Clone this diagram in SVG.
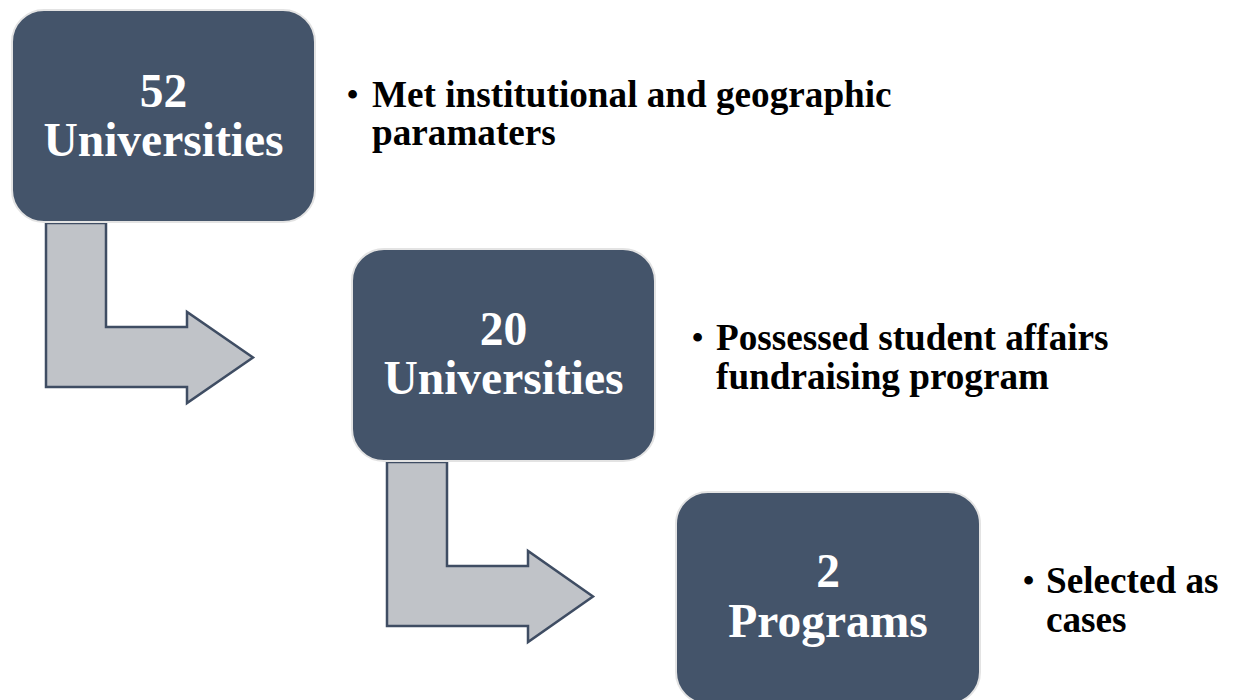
<svg xmlns="http://www.w3.org/2000/svg" width="1237" height="700" viewBox="0 0 1237 700">
<style>
.box{fill:#44546a;stroke:#e3e3e3;stroke-width:2}
.bt{font-family:"Liberation Serif",serif;font-weight:bold;font-size:47.5px;fill:#ffffff;text-anchor:middle}
.lt{font-family:"Liberation Serif",serif;font-weight:bold;font-size:37.2px;fill:#000000}
.bu{font-family:"Liberation Serif",serif;font-weight:bold;font-size:32px;fill:#000000}
.arr{fill:#c0c3c8;stroke:#3f4d63;stroke-width:2.5;stroke-linejoin:miter}
</style>
<rect width="1237" height="700" fill="#ffffff"/>
<g id="connectors">
<path class="arr" d="M46,223 L106,223 L106,327 L187,327 L187,312 L253,357.5 L187,403 L187,387 L46,387 Z"/>
<path class="arr" d="M387,462 L447,462 L447,566 L528,566 L528,551 L593,596.5 L528,642 L528,626 L387,626 Z"/>
</g>
<g id="node1">
<rect class="box" x="12" y="10" width="303" height="212" rx="32"/>
<text class="bt" x="163.5" y="107">52</text>
<text class="bt" x="163.5" y="156">Universities</text>
</g>
<g id="label1">
<text class="bu" x="347" y="105">•</text>
<text class="lt" x="372" y="107">Met institutional and geographic</text>
<text class="lt" x="372" y="145">paramaters</text>
</g>
<g id="node2">
<rect class="box" x="352" y="249" width="303" height="212" rx="32"/>
<text class="bt" x="503.5" y="345">20</text>
<text class="bt" x="503.5" y="394">Universities</text>
</g>
<g id="label2">
<text class="bu" x="692" y="348">•</text>
<text class="lt" x="716" y="350">Possessed student affairs</text>
<text class="lt" x="716" y="389">fundraising program</text>
</g>
<g id="node3">
<rect class="box" x="676" y="492" width="304" height="212" rx="32"/>
<text class="bt" x="828" y="587">2</text>
<text class="bt" x="828" y="637">Programs</text>
</g>
<g id="label3">
<text class="bu" x="1023" y="591">•</text>
<text class="lt" x="1046" y="593">Selected as</text>
<text class="lt" x="1046" y="632">cases</text>
</g>
</svg>
